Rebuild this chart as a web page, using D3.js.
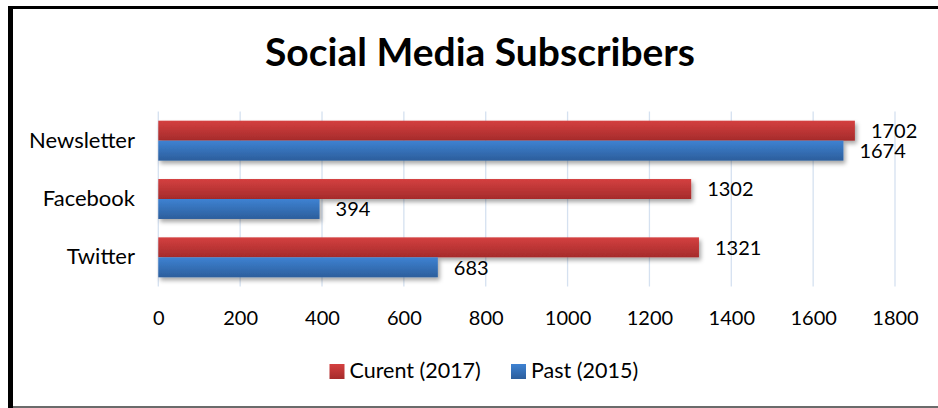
<!DOCTYPE html>
<html>
<head>
<meta charset="utf-8">
<script src="https://cdn.jsdelivr.net/npm/d3@7"></script>
<style>
  body { margin: 0; background: #fff; }
  svg text { font-family: Lato, "Open Sans", sans-serif; fill: #000; }
</style>
</head>
<body>
<svg id="chart" width="938" height="408"></svg>
<script>
// chart data
var categories = ['Newsletter', 'Facebook', 'Twitter'];
var seriesNames = ['Curent (2017)', 'Past (2015)'];
var currentValues = [1702, 1302, 1321];
var pastValues = [1674, 394, 683];
var xTicks = [0, 200, 400, 600, 800, 1000, 1200, 1400, 1600, 1800];

var svg = d3.select('#chart');
var plot = { left: 158.3, right: 895, top: 111.5, bottom: 286.5 };

// frame
svg.append('rect').attr('x', 0).attr('y', 0).attr('width', 938).attr('height', 408).attr('fill', '#fff');
svg.append('rect').attr('x', 8).attr('y', 6).attr('width', 930).attr('height', 3).attr('fill', '#000');
svg.append('rect').attr('x', 8).attr('y', 6).attr('width', 5).attr('height', 402).attr('fill', '#000');
svg.append('rect').attr('x', 13).attr('y', 406).attr('width', 925).attr('height', 2).attr('fill', '#6b6b6b');

var defs = svg.append('defs');
function grad(id, top, bottom) {
  var g = defs.append('linearGradient').attr('id', id).attr('x1', 0).attr('y1', 0).attr('x2', 0).attr('y2', 1);
  g.append('stop').attr('offset', '0%').attr('stop-color', top);
  g.append('stop').attr('offset', '100%').attr('stop-color', bottom);
}
grad('gradRed', '#d44040', '#a52b2b');
grad('gradBlue', '#3e82d2', '#2c5e9c');
var f = defs.append('filter').attr('id', 'shadow').attr('x', '-5%').attr('y', '-30%').attr('width', '115%').attr('height', '180%');
f.append('feDropShadow').attr('dx', 2).attr('dy', 3).attr('stdDeviation', 2).attr('flood-color', '#000').attr('flood-opacity', 0.35);

// title
svg.append('text')
  .attr('x', 480).attr('y', 66)
  .attr('text-anchor', 'middle')
  .style('font-size', '39px').style('font-weight', 'bold')
  .text('Social Media Subscribers');

var x = d3.scaleLinear().domain([0, 1800]).range([plot.left, plot.right]);
var y = d3.scaleBand().domain(categories).range([plot.top, plot.bottom]).paddingInner(0.315).paddingOuter(0.1575);
var y2 = d3.scaleBand().domain(seriesNames).range([0, y.bandwidth()]);

// gridlines
svg.append('g').selectAll('line').data(xTicks).enter().append('line')
  .attr('x1', function(d) { return x(d); }).attr('x2', function(d) { return x(d); })
  .attr('y1', plot.top).attr('y2', plot.bottom)
  .attr('stroke', '#d5e1f0').attr('stroke-width', 1.3);

// x axis
var xAxis = svg.append('g').attr('transform', 'translate(0,' + plot.bottom + ')')
  .call(d3.axisBottom(x).tickValues(xTicks).tickSize(0).tickPadding(0).tickFormat(d3.format('d')));
xAxis.select('.domain').remove();
xAxis.selectAll('text').attr('dy', null).attr('y', 38.5).style('font-size', '20px').style('font-family', 'Lato');

// y axis
var yAxis = svg.append('g').attr('transform', 'translate(135,0)')
  .call(d3.axisLeft(y).tickSize(0).tickPadding(0));
yAxis.select('.domain').remove();
yAxis.selectAll('text').attr('dy', '0.32em').style('font-size', '22px').style('font-family', 'Lato');

// bars
var flat = [];
categories.forEach(function(c, i) {
  flat.push({ cat: c, series: seriesNames[0], value: currentValues[i], fill: 'url(#gradRed)' });
  flat.push({ cat: c, series: seriesNames[1], value: pastValues[i], fill: 'url(#gradBlue)' });
});

svg.append('g').selectAll('rect').data(flat).enter().append('rect')
  .attr('x', x(0))
  .attr('y', function(d) { return y(d.cat) + y2(d.series); })
  .attr('width', function(d) { return x(d.value) - x(0); })
  .attr('height', y2.bandwidth())
  .attr('fill', function(d) { return d.fill; })
  .attr('filter', 'url(#shadow)');

// value labels
svg.append('g').selectAll('text').data(flat).enter().append('text')
  .attr('x', function(d) { return x(d.value) + 16; })
  .attr('y', function(d) { return y(d.cat) + y2(d.series) + y2.bandwidth() / 2; })
  .attr('dy', '0.36em')
  .style('font-size', '20px')
  .text(function(d) { return d.value; });

// legend
var legendItems = [
  { name: seriesNames[0], fill: 'url(#gradRed)', x: 329.5 },
  { name: seriesNames[1], fill: 'url(#gradBlue)', x: 511 }
];
var lg = svg.append('g').selectAll('g').data(legendItems).enter().append('g')
  .attr('transform', function(d) { return 'translate(' + d.x + ',364)'; });
lg.append('rect').attr('width', 15).attr('height', 15).attr('fill', function(d) { return d.fill; });
lg.append('text').attr('x', 20).attr('y', 13.5).style('font-size', '21.5px').text(function(d) { return d.name; });
</script>
</body>
</html>
